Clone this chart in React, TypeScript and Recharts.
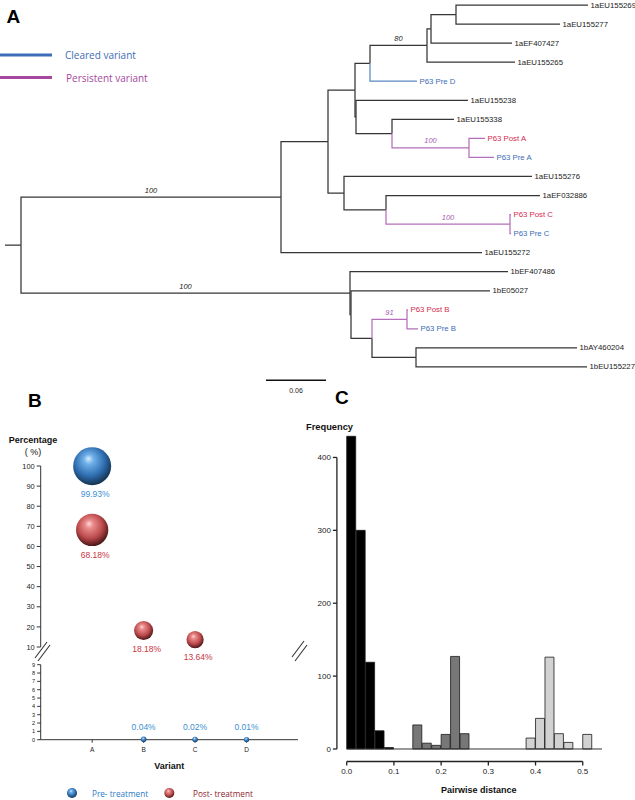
import React from "react";
import {
  ScatterChart,
  Scatter,
  XAxis,
  YAxis,
  ComposedChart,
  Bar,
  Cell,
  ReferenceLine,
} from "recharts";

const FONT = '"Liberation Sans", Arial, sans-serif';
const SANS = '"Open Sans", "Liberation Sans", sans-serif';

// ---------- A: phylogeny, [node, parent, branch length], children listed top to bottom
const branches: [string, string, number][] = [
  ["root", "", 0.016],
  ["U", "root", 0.26],
  ["V", "U", 0.047],
  ["W", "V", 0.027],
  ["Z1", "W", 0.015],
  ["Z2", "Z1", 0.057],
  ["Z3", "Z2", 0.004],
  ["Z4", "Z3", 0.025],
  ["1aEU155269", "Z4", 0.132],
  ["1aEU155277", "Z4", 0.104],
  ["1aEF407427", "Z3", 0.081],
  ["1aEU155265", "Z2", 0.088],
  ["P63 Pre D", "Z1", 0.047],
  ["W2", "W", 0.001],
  ["1aEU155238", "W2", 0.112],
  ["Q", "W2", 0.036],
  ["1aEU155338", "Q", 0.062],
  ["A", "Q", 0.077],
  ["P63 Post A", "A", 0.016],
  ["P63 Pre A", "A", 0.025],
  ["X", "V", 0.016],
  ["1aEU155276", "X", 0.188],
  ["Y", "X", 0.042],
  ["1aEF032886", "Y", 0.154],
  ["C", "Y", 0.124],
  ["P63 Post C", "C", 0.001],
  ["P63 Pre C", "C", 0.001],
  ["1aEU155272", "U", 0.201],
  ["N1", "root", 0.329],
  ["1bEF407486", "N1", 0.158],
  ["N2", "N1", 0.001],
  ["1bE05027", "N2", 0.139],
  ["N3", "N2", 0.021],
  ["B", "N3", 0.035],
  ["P63 Post B", "B", 0.001],
  ["P63 Pre B", "B", 0.011],
  ["N4", "N3", 0.044],
  ["1bAY460204", "N4", 0.161],
  ["1bEU155227", "N4", 0.171],
];
const clearedNodes = ["P63 Pre D"];
const persistentClades = ["A", "B", "C"];
const supports: [string, number][] = [
  ["Z2", 80],
  ["U", 100],
  ["N1", 100],
  ["A", 100],
  ["C", 100],
  ["B", 91],
];
const scaleBarLength = 0.06;
const scaleBarStart = 0.261;
const scaleBarRow = 19.7;

// ---------- B: variant frequencies (%)
const variants = ["A", "B", "C", "D"];
const preTreatment = [99.93, 0.04, 0.02, 0.01];
const postTreatment: (number | null)[] = [68.18, 18.18, 13.64, null];
const upperTicks = [10, 20, 30, 40, 50, 60, 70, 80, 90, 100];
const lowerTicks = [0, 1, 2, 3, 4, 5, 6, 7, 8, 9];

// ---------- C: pairwise distance histogram
const breaks = [
  0, 0.02, 0.04, 0.06, 0.08, 0.1, 0.12, 0.14, 0.16, 0.18, 0.2, 0.22, 0.24,
  0.26, 0.28, 0.3, 0.32, 0.34, 0.36, 0.38, 0.4, 0.42, 0.44, 0.46, 0.48, 0.5,
  0.52,
];
const frequency = [
  429, 300, 119, 25, 2, 0, 0, 33, 8, 5, 20, 127, 21, 0, 0, 0, 0, 0, 0, 15, 42,
  126, 21, 9, 0, 20,
];
const binGroup = [
  0, 0, 0, 0, 0, 0, 1, 1, 1, 1, 1, 1, 1, 1, 2, 2, 2, 2, 2, 2, 2, 2, 2, 2, 2, 2,
];
const histFills = ["#000000", "#777777", "#d2d2d2"];
const freqTicks = [0, 100, 200, 300, 400];
const distTicks = [0, 0.1, 0.2, 0.3, 0.4, 0.5];

const BLUE_BRANCH = "#5b88c4";
const PURPLE_BRANCH = "#b46fba";
const BLUE_TEXT = "#3b6cb5";
const RED_TEXT = "#d42c4e";

// tree layout: x = cumulative branch length, y = leaf order
type TreeNode = { name: string; parent: string; len: number; kids: string[]; x: number; y: number };
const tree: Record<string, TreeNode> = {};
branches.forEach(([name, parent, len]) => {
  tree[name] = { name, parent, len, kids: [], x: 0, y: 0 };
});
branches.forEach(([name, parent]) => {
  if (parent) tree[parent].kids.push(name);
});
let leafCount = 0;
const walk = (name: string, x0: number) => {
  const n = tree[name];
  n.x = x0 + n.len;
  if (!n.kids.length) {
    n.y = leafCount++;
    return;
  }
  n.kids.forEach((k) => walk(k, n.x));
  n.y = (tree[n.kids[0]].y + tree[n.kids[n.kids.length - 1]].y) / 2;
};
walk("root", 0);

const colorOf = (name: string) => {
  if (clearedNodes.includes(name)) return BLUE_BRANCH;
  let cur = name;
  while (cur) {
    if (persistentClades.includes(cur)) return PURPLE_BRANCH;
    cur = tree[cur].parent;
  }
  return "#363636";
};

const elbows = Object.values(tree).map((n) => {
  const p = n.parent ? tree[n.parent] : null;
  const points = p
    ? [
        { x: p.x, y: p.y },
        { x: p.x, y: n.y },
        { x: n.x, y: n.y },
      ]
    : [
        { x: 0, y: n.y },
        { x: n.x, y: n.y },
      ];
  return { name: n.name, color: colorOf(n.name), points };
});

const leaves = Object.values(tree)
  .filter((n) => !n.kids.length)
  .map((n) => ({
    x: n.x,
    y: n.y,
    name: n.name,
    color: n.name.includes("Post") ? RED_TEXT : n.name.includes("Pre") ? BLUE_TEXT : "#222",
  }));

const supportData = supports.map(([name, value]) => {
  const n = tree[name];
  const p = tree[n.parent];
  return { x: (p.x + n.x) / 2, y: n.y, value, color: colorOf(name) === PURPLE_BRANCH ? "#a45cae" : "#222" };
});

const scaleBar = [
  { x: scaleBarStart, y: scaleBarRow },
  { x: scaleBarStart + scaleBarLength, y: scaleBarRow },
];
const scaleLabel = [{ x: scaleBarStart + scaleBarLength / 2, y: scaleBarRow, text: String(scaleBarLength) }];

const noDot = () => <g />;

const LeafLabel = (p: any) => (
  <text x={p.cx + 2.5} y={p.cy} dominantBaseline="central" fontSize={7.8} fill={p.payload.color}>
    {p.payload.name}
  </text>
);
const SupportLabel = (p: any) => (
  <text x={p.cx} y={p.cy - 7} dominantBaseline="central" textAnchor="middle" fontSize={7.5} fontStyle="italic" fill={p.payload.color}>
    {p.payload.value}
  </text>
);
const ScaleText = (p: any) => (
  <text x={p.cx} y={p.cy + 10} dominantBaseline="central" textAnchor="middle" fontSize={7} fill="#222">
    {p.payload.text}
  </text>
);

// ---------- B helpers
const toPoints = (vals: (number | null)[]) =>
  vals.flatMap((v, i) => (v == null ? [] : [{ x: i + 1, value: v, label: `${v.toFixed(2)}%` }]));
const prePts = toPoints(preTreatment);
const postPts = toPoints(postTreatment);
const breakAt = upperTicks[0];

const bubbleRadius = (v: number) => 2.5 + 1.65 * Math.sqrt(v);
const makeBubble = (grad: string, color: string, above: boolean) => (p: any) => {
  const r = bubbleRadius(p.payload.value);
  return (
    <g>
      <circle cx={p.cx} cy={p.cy} r={r} fill={`url(#${grad})`} />
      <text
        x={above ? p.cx : p.cx + 3}
        y={above ? p.cy - r - 10 : p.cy + r + 9}
        textAnchor="middle"
        dominantBaseline="central"
        fontSize={8.5}
        fill={color}
      >
        {p.payload.label}
      </text>
    </g>
  );
};
const preBelow = makeBubble("sphereBlue", "#3b8fd3", false);
const preAbove = makeBubble("sphereBlue", "#3b8fd3", true);
const postBelow = makeBubble("sphereRed", "#c8353f", false);
const postAbove = makeBubble("sphereRed", "#c8353f", true);

// ---------- C helpers
const histData = frequency.map((count, i) => ({
  x: (breaks[i] + breaks[i + 1]) / 2,
  count,
  group: binGroup[i],
}));
// R hist: range padded 4% on each side, axes detached and drawn from first to last tick
const xPad = 0.04 * (breaks[breaks.length - 1] - breaks[0]);
const xDomain = [breaks[0] - xPad, breaks[breaks.length - 1] + xPad];
const yMax = Math.max(...frequency);
const yDomain = [-0.04 * yMax, 1.04 * yMax];

const CW = 335;
const CH = 390;
const cTop = 13.8;
const cRight = 33;
const cAxisW = 36.9;
const cAxisH = 38.5;
const kx = (CW - cAxisW - cRight) / (xDomain[1] - xDomain[0]);
const ky = (CH - cTop - cAxisH) / (yDomain[1] - yDomain[0]);
const toPx = (v: number) => cAxisW + (v - xDomain[0]) * kx;
const toPy = (v: number) => cTop + (yDomain[1] - v) * ky;
const yAxisTop = toPy(freqTicks[freqTicks.length - 1]);
const yAxisBottom = toPy(freqTicks[0]);
const xAxisLeft = toPx(distTicks[0]);
const xAxisRight = toPx(distTicks[distTicks.length - 1]);
const xAxisY = CH - cAxisH;

const axisColor = "#333";

const PanelLetter = ({ x, cy, text }: { x: number; cy: number; text: string }) => (
  <div
    style={{
      position: "absolute",
      left: x,
      top: cy - 9.3,
      fontSize: 19,
      fontWeight: "bold",
      lineHeight: 1,
      fontFamily: FONT,
      color: "#000",
    }}
  >
    {text}
  </div>
);

const abs = (left: number, top: number): React.CSSProperties => ({ position: "absolute", left, top });

export default function App() {
  return (
    <div style={{ position: "absolute", left: 0, top: 0, width: 635, height: 800, background: "#fff", fontFamily: FONT, overflow: "hidden" }}>
      <svg width={0} height={0} style={{ position: "absolute" }}>
        <defs>
          <radialGradient id="sphereBlue" cx="45%" cy="40%" r="60%" fx="40%" fy="30%">
            <stop offset="0%" stopColor="#d6ecfc" />
            <stop offset="22%" stopColor="#6fafe8" />
            <stop offset="65%" stopColor="#2f6fb2" />
            <stop offset="100%" stopColor="#15324f" />
          </radialGradient>
          <radialGradient id="sphereRed" cx="45%" cy="40%" r="60%" fx="40%" fy="30%">
            <stop offset="0%" stopColor="#ffd6d6" />
            <stop offset="22%" stopColor="#ea8a8a" />
            <stop offset="65%" stopColor="#bb4a4c" />
            <stop offset="100%" stopColor="#4a1515" />
          </radialGradient>
        </defs>
      </svg>

      {/* A */}
      <div style={abs(0, 0)}>
        <ScatterChart width={635} height={410} margin={{ top: 5, right: 0, bottom: 4.95, left: 5 }}>
          <XAxis type="number" dataKey="x" domain={[0, 0.63]} hide />
          <YAxis type="number" dataKey="y" domain={[0, 21]} reversed hide />
          {elbows.map((b) => (
            <Scatter
              key={b.name}
              data={b.points}
              fill={b.color}
              line={{ stroke: b.color, strokeWidth: 1.25 }}
              shape={noDot}
              isAnimationActive={false}
            />
          ))}
          <Scatter data={leaves} shape={LeafLabel} isAnimationActive={false} />
          <Scatter data={supportData} shape={SupportLabel} isAnimationActive={false} />
          <Scatter data={scaleBar} fill="#111" line={{ stroke: "#111", strokeWidth: 1.6 }} shape={noDot} isAnimationActive={false} />
          <Scatter data={scaleLabel} shape={ScaleText} isAnimationActive={false} />
        </ScatterChart>
      </div>
      <PanelLetter x={6.5} cy={16.3} text="A" />
      <svg width={170} height={50} style={abs(0, 40)}>
        <line x1={0} x2={52} y1={15} y2={15} stroke="#3d6db5" strokeWidth={2.8} />
        <text x={65} y={15} dominantBaseline="central" fontSize={10} fill="#3d6db5" fontFamily={SANS}>
          Cleared variant
        </text>
        <line x1={0} x2={52} y1={37.5} y2={37.5} stroke="#a5489e" strokeWidth={2.8} />
        <text x={66} y={37.5} dominantBaseline="central" fontSize={10} fill="#a5489e" fontFamily={SANS}>
          Persistent variant
        </text>
      </svg>

      {/* B */}
      <PanelLetter x={28} cy={400} text="B" />
      <div style={{ ...abs(0, 434), width: 66, textAlign: "center", fontSize: 9, lineHeight: "12px", color: "#111" }}>
        <div style={{ fontWeight: "bold" }}>Percentage</div>
        <div>( %)</div>
      </div>
      <div style={abs(0, 430)}>
        <ScatterChart width={320} height={240} margin={{ top: 36, right: 22, bottom: 23, left: 0 }}>
          <XAxis type="number" dataKey="x" domain={[0, variants.length + 1]} hide />
          <YAxis
            type="number"
            dataKey="value"
            domain={[upperTicks[0], upperTicks[upperTicks.length - 1]]}
            ticks={upperTicks}
            interval={0}
            width={40.7}
            tickSize={4}
            tick={{ fontSize: 7.4, fill: "#222" }}
            stroke={axisColor}
          />
          <YAxis
            yAxisId="frame"
            orientation="right"
            domain={[upperTicks[0], upperTicks[upperTicks.length - 1]]}
            allowDataOverflow
            width={0}
            tick={false}
            tickLine={false}
            stroke={axisColor}
          />
          <Scatter name="Pre- treatment" data={prePts.filter((d) => d.value >= breakAt)} shape={preBelow} isAnimationActive={false} />
          <Scatter name="Post- treatment" data={postPts.filter((d) => d.value >= breakAt)} shape={postBelow} isAnimationActive={false} />
        </ScatterChart>
      </div>
      <div style={abs(0, 640)}>
        <ScatterChart width={320} height={160} margin={{ top: 24.7, right: 22, bottom: 25.3, left: 0 }}>
          <XAxis
            type="number"
            dataKey="x"
            domain={[0, variants.length + 1]}
            ticks={variants.map((_, i) => i + 1)}
            interval={0}
            tickFormatter={(v: number) => variants[v - 1]}
            height={35}
            tickSize={3}
            tickMargin={5}
            tick={{ fontSize: 6.5, fill: "#222" }}
            stroke={axisColor}
            label={{ value: "Variant", position: "insideBottom", offset: 6, style: { fontSize: 9, fontWeight: "bold", fill: "#111" } }}
          />
          <YAxis
            type="number"
            dataKey="value"
            domain={[lowerTicks[0], lowerTicks[lowerTicks.length - 1]]}
            ticks={lowerTicks}
            interval={0}
            width={40.7}
            tickSize={3.5}
            tick={{ fontSize: 5.6, fill: "#222" }}
            stroke={axisColor}
          />
          <YAxis
            yAxisId="frame"
            orientation="right"
            domain={[lowerTicks[0], lowerTicks[lowerTicks.length - 1]]}
            allowDataOverflow
            width={0}
            tick={false}
            tickLine={false}
            stroke={axisColor}
          />
          <Scatter name="Pre- treatment" data={prePts.filter((d) => d.value < breakAt)} shape={preAbove} isAnimationActive={false} />
          <Scatter name="Post- treatment" data={postPts.filter((d) => d.value < breakAt)} shape={postAbove} isAnimationActive={false} />
        </ScatterChart>
      </div>
      {/* axis break marks */}
      <svg width={320} height={40} style={abs(0, 630)}>
        <g stroke="#333" strokeWidth={1.1}>
          <line x1={35} y1={28} x2={47} y2={12} />
          <line x1={38} y1={31} x2={50} y2={15} />
          <line x1={292} y1={27} x2={304} y2={11} />
          <line x1={295} y1={31} x2={307} y2={15} />
        </g>
      </svg>
      <svg width={320} height={20} style={abs(0, 783)}>
        <circle cx={72} cy={10} r={5} fill="url(#sphereBlue)" />
        <text x={92} y={10} dominantBaseline="central" fontSize={8.2} fill="#2b7bc6" fontFamily={SANS}>
          Pre- treatment
        </text>
        <circle cx={169.3} cy={10} r={5} fill="url(#sphereRed)" />
        <text x={193} y={10} dominantBaseline="central" fontSize={8.2} fill="#8b1d2c" fontFamily={SANS}>
          Post- treatment
        </text>
      </svg>

      {/* C */}
      <PanelLetter x={335} cy={397.5} text="C" />
      <div style={{ ...abs(306, 421), fontSize: 9.3, fontWeight: "bold", color: "#111", lineHeight: "12px" }}>Frequency</div>
      {/* bars */}
      <div style={abs(300, 410)}>
        <ComposedChart
          width={CW}
          height={CH}
          data={histData}
          margin={{ top: cTop, right: cRight, bottom: cAxisH, left: cAxisW }}
          barCategoryGap={0}
          barGap={0}
        >
          <XAxis type="number" dataKey="x" domain={xDomain} hide />
          <YAxis type="number" domain={yDomain} hide />
          <ReferenceLine
            segment={[
              { x: breaks[0], y: 0 },
              { x: xDomain[1], y: 0 },
            ]}
            stroke={axisColor}
            ifOverflow="visible"
          />
          <Bar dataKey="count" stroke="#1a1a1a" strokeWidth={0.8} isAnimationActive={false}>
            {histData.map((d, i) => (
              <Cell key={i} fill={histFills[d.group]} />
            ))}
          </Bar>
        </ComposedChart>
      </div>
      {/* detached frequency axis labels, 0 to 400 */}
      <div style={abs(300, 410)}>
        <ComposedChart width={CW} height={CH} data={histData} margin={{ top: yAxisTop, right: cRight, bottom: CH - yAxisBottom, left: 0 }}>
          <XAxis type="number" dataKey="x" domain={xDomain} hide />
          <YAxis
            type="number"
            domain={[freqTicks[0], freqTicks[freqTicks.length - 1]]}
            allowDataOverflow
            ticks={freqTicks}
            interval={0}
            width={cAxisW}
            axisLine={false}
            tickLine={false}
            tickSize={4}
            tickMargin={2}
            tick={{ fontSize: 8, fill: "#222" }}
          />
        </ComposedChart>
      </div>
      {/* detached distance axis labels, 0 to 0.5 */}
      <div style={abs(300, 410)}>
        <ComposedChart width={CW} height={CH} data={histData} margin={{ top: 0, right: CW - xAxisRight, bottom: 0, left: xAxisLeft }}>
          <XAxis
            type="number"
            dataKey="x"
            domain={[distTicks[0], distTicks[distTicks.length - 1]]}
            allowDataOverflow
            ticks={distTicks}
            interval={0}
            height={cAxisH}
            axisLine={false}
            tickLine={false}
            tickSize={4}
            tickMargin={3}
            tickFormatter={(v: number) => v.toFixed(1)}
            tick={{ fontSize: 8, fill: "#222" }}
            label={{ value: "Pairwise distance", position: "insideBottom", offset: 7, dx: 14, style: { fontSize: 9, fontWeight: "bold", fill: "#111" } }}
          />
          <YAxis type="number" domain={yDomain} hide />
        </ComposedChart>
      </div>
      {/* spine lines and tick marks of the detached axes */}
      <svg width={CW} height={CH} style={{ position: "absolute", left: 300, top: 410, zIndex: 2 }}>
        <g stroke="#222" strokeWidth={1.3} fill="none">
          <path d={`M${cAxisW},${yAxisTop}V${yAxisBottom}`} />
          {freqTicks.map((t) => (
            <path key={`y${t}`} d={`M${cAxisW - 4},${toPy(t)}H${cAxisW}`} />
          ))}
          <path d={`M${xAxisLeft},${xAxisY}H${xAxisRight}`} />
          {distTicks.map((t) => (
            <path key={`x${t}`} d={`M${toPx(t)},${xAxisY}V${xAxisY + 4}`} />
          ))}
        </g>
      </svg>
    </div>
  );
}
